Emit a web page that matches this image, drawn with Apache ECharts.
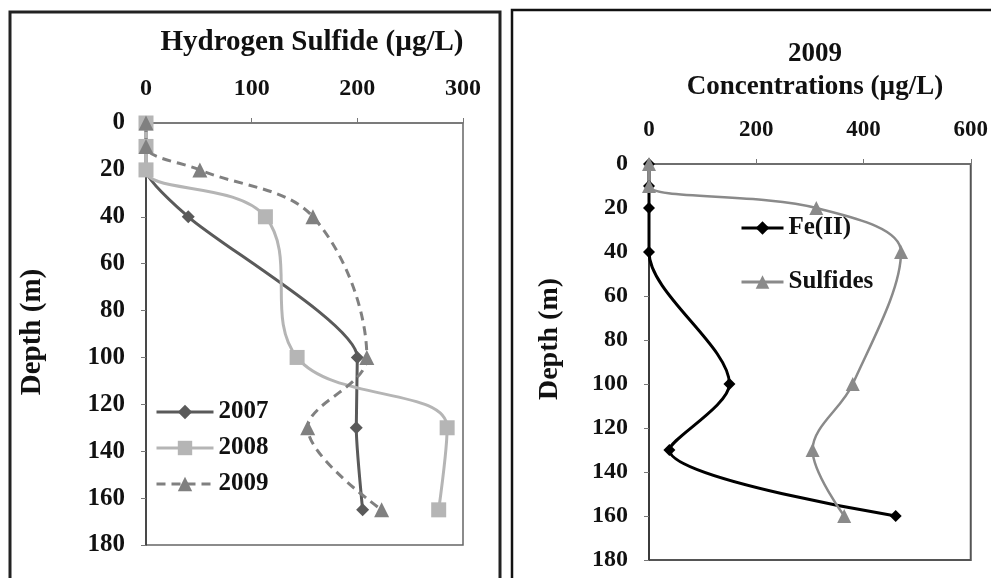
<!DOCTYPE html>
<html>
<head>
<meta charset="utf-8">
<style>
  html, body { margin: 0; padding: 0; background: #fff; }
  #chart { width: 991px; height: 578px; }
</style>
<script src="https://cdn.jsdelivr.net/npm/echarts@6/dist/echarts.min.js"></script>
</head>
<body>
<div id="chart"></div>
<script>
// depth (m) and concentrations
const h2sDepths2007 = [0, 10, 20, 40, 100, 130, 165]
const h2s2007 = [0, 0, 0, 40, 200, 199, 205]
const h2sDepths2008 = [0, 10, 20, 40, 100, 130, 165]
const h2s2008 = [0, 0, 0, 113, 143, 285, 277]
const h2sDepths2009 = [0, 10, 20, 40, 100, 130, 165]
const h2s2009 = [0, 0, 51, 158, 209, 153, 223]

const depths2009 = [0, 10, 20, 40, 100, 130, 160]
const fe2009 = [0, 0, 0, 0, 150, 38, 460]
const sulfides2009 = [0, 0, 312, 470, 380, 305, 364]

const leftXTicks = { min: 0, max: 300, interval: 100 }
const rightXTicks = { min: 0, max: 600, interval: 200 }
const depthTicks = { min: 0, max: 180, interval: 20 }

const serif = "'Liberation Serif', 'Times New Roman', serif"
const ink = '#111'

const pairs = (xs, ds) => xs.map((v, i) => [v, ds[i]])

const chart = echarts.init(document.getElementById('chart'), null, { renderer: 'canvas' })

function xAxisFor(ticks, gridIndex, size) {
  return {
    gridIndex,
    type: 'value',
    position: 'top',
    min: ticks.min,
    max: ticks.max,
    interval: ticks.interval,
    splitLine: { show: false },
    axisLine: { show: true, lineStyle: { color: '#777', width: 1.5 } },
    axisTick: { show: true, inside: false, length: 5, lineStyle: { color: '#777' } },
    axisLabel: { margin: 22, color: ink, fontFamily: serif, fontWeight: 'bold', fontSize: size }
  }
}

function yAxisFor(gridIndex, size) {
  return {
    gridIndex,
    type: 'value',
    inverse: true,
    min: depthTicks.min,
    max: depthTicks.max,
    interval: depthTicks.interval,
    splitLine: { show: false },
    axisLine: { show: true, lineStyle: { color: '#333', width: 1.5 } },
    axisTick: { show: true, inside: false, length: 5, lineStyle: { color: '#777' } },
    axisLabel: { margin: 21, color: ink, fontFamily: serif, fontWeight: 'bold', fontSize: size }
  }
}

const legendText = { color: ink, fontFamily: serif, fontWeight: 'bold', fontSize: 25, lineHeight: 26 }

const option = {
  animation: false,
  backgroundColor: '#fff',
  title: [
    {
      text: 'Hydrogen Sulfide (µg/L)',
      left: 307, top: 22, textAlign: 'center',
      textStyle: { color: ink, fontFamily: serif, fontWeight: 'bold', fontSize: 29, lineHeight: 32 }
    },
    {
      text: '2009\nConcentrations (µg/L)',
      left: 810, top: 33, textAlign: 'center',
      textStyle: { color: ink, fontFamily: serif, fontWeight: 'bold', fontSize: 27, lineHeight: 33 }
    }
  ],
  grid: [
    { left: 146, top: 123, width: 317, height: 422, show: true, borderColor: '#666', borderWidth: 1.5 },
    { left: 649, top: 164, width: 322, height: 396, show: true, borderColor: '#555', borderWidth: 2 }
  ],
  xAxis: [xAxisFor(leftXTicks, 0, 24), xAxisFor(rightXTicks, 1, 23)],
  yAxis: [yAxisFor(0, 25), yAxisFor(1, 24)],
  legend: [
    {
      orient: 'vertical', left: 155, top: 399,
      itemWidth: 57, itemHeight: 18, itemGap: 10, padding: 0,
      data: ['2007', '2008', '2009'],
      lineStyle: { width: 3 },
      textStyle: legendText
    },
    {
      orient: 'vertical', left: 740, top: 215,
      itemWidth: 42, itemHeight: 17, itemGap: 28, padding: 0,
      data: ['Fe(II)', 'Sulfides'],
      lineStyle: { width: 3 },
      textStyle: legendText
    }
  ],
  series: [
    {
      name: '2007', type: 'line', xAxisIndex: 0, yAxisIndex: 0,
      data: pairs(h2s2007, h2sDepths2007), smooth: 0.2,
      symbol: 'diamond', symbolSize: 13,
      lineStyle: { color: '#5a5a5a', width: 3 },
      itemStyle: { color: '#5a5a5a' }
    },
    {
      name: '2008', type: 'line', xAxisIndex: 0, yAxisIndex: 0,
      data: pairs(h2s2008, h2sDepths2008), smooth: 0.4,
      symbol: 'rect', symbolSize: 15,
      lineStyle: { color: '#b5b5b5', width: 3 },
      itemStyle: { color: '#b5b5b5' }
    },
    {
      name: '2009', type: 'line', xAxisIndex: 0, yAxisIndex: 0,
      data: pairs(h2s2009, h2sDepths2009), smooth: 0.35,
      symbol: 'triangle', symbolSize: 15,
      lineStyle: { color: '#808080', width: 3, type: [9, 6] },
      itemStyle: { color: '#808080' }
    },
    {
      name: 'Fe(II)', type: 'line', xAxisIndex: 1, yAxisIndex: 1,
      data: pairs(fe2009, depths2009), smooth: 0.3,
      symbol: 'diamond', symbolSize: 12,
      lineStyle: { color: '#000', width: 3 },
      itemStyle: { color: '#000' }
    },
    {
      name: 'Sulfides', type: 'line', xAxisIndex: 1, yAxisIndex: 1,
      data: pairs(sulfides2009, depths2009), smooth: 0.35,
      symbol: 'triangle', symbolSize: 14,
      lineStyle: { color: '#8a8a8a', width: 2.5 },
      itemStyle: { color: '#8a8a8a' }
    }
  ],
  graphic: [
    {
      type: 'rect', silent: true, z: -1,
      shape: { x: 10, y: 12, width: 490, height: 600 },
      style: { fill: 'none', stroke: '#222', lineWidth: 3 }
    },
    {
      type: 'rect', silent: true, z: -1,
      shape: { x: 512, y: 10, width: 520, height: 600 },
      style: { fill: 'none', stroke: '#111', lineWidth: 2.5 }
    },
    {
      type: 'text', x: 33, y: 332, rotation: Math.PI / 2,
      style: { text: 'Depth (m)', fill: ink, font: 'bold 29px ' + serif, align: 'center', verticalAlign: 'middle' }
    },
    {
      type: 'text', x: 550, y: 339, rotation: Math.PI / 2,
      style: { text: 'Depth (m)', fill: ink, font: 'bold 28px ' + serif, align: 'center', verticalAlign: 'middle' }
    }
  ]
}

chart.setOption(option)
</script>
</body>
</html>
